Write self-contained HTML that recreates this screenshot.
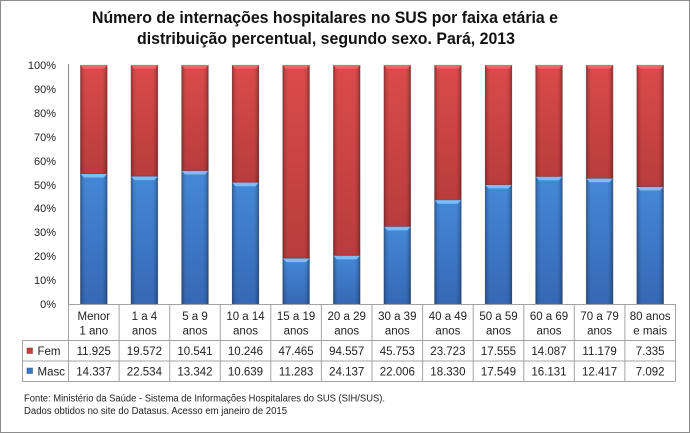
<!DOCTYPE html>
<html><head><meta charset="utf-8">
<style>
html,body{margin:0;padding:0;background:#fff;}
svg{display:block;}
text{font-family:"Liberation Sans",Arial,sans-serif;}
</style></head>
<body>
<svg width="690" height="433" viewBox="0 0 690 433" xmlns="http://www.w3.org/2000/svg">
<defs>
  <linearGradient id="rv" x1="0" y1="0" x2="0" y2="1">
    <stop offset="0" stop-color="#db4b4b"/>
    <stop offset="1" stop-color="#b93c3c"/>
  </linearGradient>
  <linearGradient id="bv" x1="0" y1="0" x2="0" y2="1">
    <stop offset="0" stop-color="#4588d8"/>
    <stop offset="1" stop-color="#3668b4"/>
  </linearGradient>
  <linearGradient id="sh" x1="0" y1="0" x2="1" y2="0">
    <stop offset="0" stop-color="#000" stop-opacity="0.35"/>
    <stop offset="0.1" stop-color="#000" stop-opacity="0.08"/>
    <stop offset="0.2" stop-color="#000" stop-opacity="0"/>
    <stop offset="0.8" stop-color="#000" stop-opacity="0"/>
    <stop offset="0.9" stop-color="#000" stop-opacity="0.1"/>
    <stop offset="1" stop-color="#000" stop-opacity="0.38"/>
  </linearGradient>
</defs>

<rect x="0.5" y="0.5" width="689" height="432" fill="#fff" stroke="#8c8c8c" stroke-width="1"/>

<!-- Title -->
<text x="325" y="23" font-size="16.5" font-weight="bold" fill="#111" text-anchor="middle" textLength="466" lengthAdjust="spacingAndGlyphs">Número de internações hospitalares no SUS por faixa etária e</text>
<text x="326" y="44" font-size="16.5" font-weight="bold" fill="#111" text-anchor="middle" textLength="378" lengthAdjust="spacingAndGlyphs">distribuição percentual, segundo sexo. Pará, 2013</text>

<!-- Y labels -->
<g font-size="11" fill="#222" text-anchor="end">
<text x="56" y="69">100%</text>
<text x="56" y="93">90%</text>
<text x="56" y="117">80%</text>
<text x="56" y="141">70%</text>
<text x="56" y="165">60%</text>
<text x="56" y="189">50%</text>
<text x="56" y="212">40%</text>
<text x="56" y="236">30%</text>
<text x="56" y="260">20%</text>
<text x="56" y="284">10%</text>
<text x="56" y="308">0%</text>
</g>

<!-- Y axis line -->
<line x1="68.5" y1="64" x2="68.5" y2="304" stroke="#8a8a8a" stroke-width="1"/>

<!-- Bars -->
<g>
<rect x="80.3" y="65" width="27" height="108.5" fill="url(#rv)"/><rect x="80.3" y="173.5" width="27" height="130.5" fill="url(#bv)"/>
<rect x="130.9" y="65" width="27" height="111.1" fill="url(#rv)"/><rect x="130.9" y="176.1" width="27" height="127.9" fill="url(#bv)"/>
<rect x="181.5" y="65" width="27" height="105.5" fill="url(#rv)"/><rect x="181.5" y="170.5" width="27" height="133.5" fill="url(#bv)"/>
<rect x="232.0" y="65" width="27" height="117.3" fill="url(#rv)"/><rect x="232.0" y="182.3" width="27" height="121.7" fill="url(#bv)"/>
<rect x="282.6" y="65" width="27" height="193.1" fill="url(#rv)"/><rect x="282.6" y="258.1" width="27" height="45.9" fill="url(#bv)"/>
<rect x="333.2" y="65" width="27" height="190.4" fill="url(#rv)"/><rect x="333.2" y="255.4" width="27" height="48.6" fill="url(#bv)"/>
<rect x="383.8" y="65" width="27" height="161.4" fill="url(#rv)"/><rect x="383.8" y="226.4" width="27" height="77.6" fill="url(#bv)"/>
<rect x="434.4" y="65" width="27" height="134.8" fill="url(#rv)"/><rect x="434.4" y="199.8" width="27" height="104.2" fill="url(#bv)"/>
<rect x="485.0" y="65" width="27" height="119.5" fill="url(#rv)"/><rect x="485.0" y="184.5" width="27" height="119.5" fill="url(#bv)"/>
<rect x="535.5" y="65" width="27" height="111.4" fill="url(#rv)"/><rect x="535.5" y="176.4" width="27" height="127.6" fill="url(#bv)"/>
<rect x="586.1" y="65" width="27" height="113.2" fill="url(#rv)"/><rect x="586.1" y="178.2" width="27" height="125.8" fill="url(#bv)"/>
<rect x="636.7" y="65" width="27" height="121.5" fill="url(#rv)"/><rect x="636.7" y="186.5" width="27" height="117.5" fill="url(#bv)"/>
</g>
<!-- side shading -->
<g fill="url(#sh)" stroke="#7a7a7a" stroke-opacity="0.35" stroke-width="0.6">
<rect x="80.3" y="65" width="27" height="239"/>
<rect x="130.9" y="65" width="27" height="239"/>
<rect x="181.5" y="65" width="27" height="239"/>
<rect x="232.0" y="65" width="27" height="239"/>
<rect x="282.6" y="65" width="27" height="239"/>
<rect x="333.2" y="65" width="27" height="239"/>
<rect x="383.8" y="65" width="27" height="239"/>
<rect x="434.4" y="65" width="27" height="239"/>
<rect x="485.0" y="65" width="27" height="239"/>
<rect x="535.5" y="65" width="27" height="239"/>
<rect x="586.1" y="65" width="27" height="239"/>
<rect x="636.7" y="65" width="27" height="239"/>
</g>
<!-- red top bevels -->
<g fill="#ec6c6c" opacity="0.9">
<polygon points="80.3,65 107.3,65 104.3,68.5 83.3,68.5"/>
<polygon points="130.9,65 157.9,65 154.9,68.5 133.9,68.5"/>
<polygon points="181.5,65 208.5,65 205.5,68.5 184.5,68.5"/>
<polygon points="232.0,65 259.0,65 256.0,68.5 235.0,68.5"/>
<polygon points="282.6,65 309.6,65 306.6,68.5 285.6,68.5"/>
<polygon points="333.2,65 360.2,65 357.2,68.5 336.2,68.5"/>
<polygon points="383.8,65 410.8,65 407.8,68.5 386.8,68.5"/>
<polygon points="434.4,65 461.4,65 458.4,68.5 437.4,68.5"/>
<polygon points="485.0,65 512.0,65 509.0,68.5 488.0,68.5"/>
<polygon points="535.5,65 562.5,65 559.5,68.5 538.5,68.5"/>
<polygon points="586.1,65 613.1,65 610.1,68.5 589.1,68.5"/>
<polygon points="636.7,65 663.7,65 660.7,68.5 639.7,68.5"/>
</g>
<!-- red/blue boundary line -->
<g stroke="#8a2f2f" stroke-width="1" opacity="0.6">
<line x1="80.3" y1="173.5" x2="107.3" y2="173.5"/>
<line x1="130.9" y1="176.1" x2="157.9" y2="176.1"/>
<line x1="181.5" y1="170.5" x2="208.5" y2="170.5"/>
<line x1="232.0" y1="182.3" x2="259.0" y2="182.3"/>
<line x1="282.6" y1="258.1" x2="309.6" y2="258.1"/>
<line x1="333.2" y1="255.4" x2="360.2" y2="255.4"/>
<line x1="383.8" y1="226.4" x2="410.8" y2="226.4"/>
<line x1="434.4" y1="199.8" x2="461.4" y2="199.8"/>
<line x1="485.0" y1="184.5" x2="512.0" y2="184.5"/>
<line x1="535.5" y1="176.4" x2="562.5" y2="176.4"/>
<line x1="586.1" y1="178.2" x2="613.1" y2="178.2"/>
<line x1="636.7" y1="186.5" x2="663.7" y2="186.5"/>
</g>
<!-- blue top bevels -->
<g fill="#7dbdf5">
<polygon points="80.8,174 106.8,174 103.8,177.5 83.8,177.5"/>
<polygon points="131.4,176.6 157.4,176.6 154.4,180.1 134.4,180.1"/>
<polygon points="182.0,171 208.0,171 205.0,174.5 185.0,174.5"/>
<polygon points="232.5,182.8 258.5,182.8 255.5,186.3 235.5,186.3"/>
<polygon points="283.1,258.6 309.1,258.6 306.1,262.1 286.1,262.1"/>
<polygon points="333.7,255.9 359.7,255.9 356.7,259.4 336.7,259.4"/>
<polygon points="384.3,226.9 410.3,226.9 407.3,230.4 387.3,230.4"/>
<polygon points="434.9,200.3 460.9,200.3 457.9,203.8 437.9,203.8"/>
<polygon points="485.5,185 511.5,185 508.5,188.5 488.5,188.5"/>
<polygon points="536.0,176.9 562.0,176.9 559.0,180.4 539.0,180.4"/>
<polygon points="586.6,178.7 612.6,178.7 609.6,182.2 589.6,182.2"/>
<polygon points="637.2,187 663.2,187 660.2,190.5 640.2,190.5"/>
</g>

<!-- Table lines -->
<g stroke="#a3a3a3" stroke-width="1" fill="none">
<line x1="68.5" y1="304.5" x2="675.5" y2="304.5"/>
<line x1="22.5" y1="340.5" x2="675.5" y2="340.5"/>
<line x1="22.5" y1="361" x2="675.5" y2="361"/>
<line x1="22.5" y1="381.5" x2="675.5" y2="381.5"/>
<line x1="22.5" y1="340.5" x2="22.5" y2="381.5"/>
<line x1="68.5" y1="304" x2="68.5" y2="381.5"/>
<line x1="119.1" y1="304" x2="119.1" y2="381.5"/>
<line x1="169.7" y1="304" x2="169.7" y2="381.5"/>
<line x1="220.3" y1="304" x2="220.3" y2="381.5"/>
<line x1="270.8" y1="304" x2="270.8" y2="381.5"/>
<line x1="321.4" y1="304" x2="321.4" y2="381.5"/>
<line x1="372.0" y1="304" x2="372.0" y2="381.5"/>
<line x1="422.6" y1="304" x2="422.6" y2="381.5"/>
<line x1="473.2" y1="304" x2="473.2" y2="381.5"/>
<line x1="523.8" y1="304" x2="523.8" y2="381.5"/>
<line x1="574.3" y1="304" x2="574.3" y2="381.5"/>
<line x1="624.9" y1="304" x2="624.9" y2="381.5"/>
<line x1="675.5" y1="304" x2="675.5" y2="381.5"/>
</g>

<!-- Category labels -->
<g font-size="11.5" fill="#222" text-anchor="middle">
<text x="93.8" y="320">Menor</text><text x="93.8" y="334.5">1 ano</text>
<text x="144.4" y="320">1 a 4</text><text x="144.4" y="334.5">anos</text>
<text x="195.0" y="320">5 a 9</text><text x="195.0" y="334.5">anos</text>
<text x="245.5" y="320">10 a 14</text><text x="245.5" y="334.5">anos</text>
<text x="296.1" y="320">15 a 19</text><text x="296.1" y="334.5">anos</text>
<text x="346.7" y="320">20 a 29</text><text x="346.7" y="334.5">anos</text>
<text x="397.3" y="320">30 a 39</text><text x="397.3" y="334.5">anos</text>
<text x="447.9" y="320">40 a 49</text><text x="447.9" y="334.5">anos</text>
<text x="498.5" y="320">50 a 59</text><text x="498.5" y="334.5">anos</text>
<text x="549.0" y="320">60 a 69</text><text x="549.0" y="334.5">anos</text>
<text x="599.6" y="320">70 a 79</text><text x="599.6" y="334.5">anos</text>
<text x="650.2" y="320">80 anos</text><text x="650.2" y="334.5">e mais</text>
</g>

<!-- Legend keys -->
<rect x="27" y="348" width="5.5" height="5.5" fill="#c63e3e" stroke="#8a2a2a" stroke-width="0.5"/>
<rect x="27" y="368" width="5.5" height="5.5" fill="#3a74c4" stroke="#24508a" stroke-width="0.5"/>
<g font-size="11.5" fill="#222">
<text x="37.5" y="355">Fem</text>
<text x="37.5" y="375.5">Masc</text>
</g>

<!-- Values -->
<g font-size="11.5" fill="#222" text-anchor="middle">
<text x="93.8" y="355">11.925</text>
<text x="144.4" y="355">19.572</text>
<text x="195.0" y="355">10.541</text>
<text x="245.5" y="355">10.246</text>
<text x="296.1" y="355">47.465</text>
<text x="346.7" y="355">94.557</text>
<text x="397.3" y="355">45.753</text>
<text x="447.9" y="355">23.723</text>
<text x="498.5" y="355">17.555</text>
<text x="549.0" y="355">14.087</text>
<text x="599.6" y="355">11.179</text>
<text x="650.2" y="355">7.335</text>

<text x="93.8" y="375.5">14.337</text>
<text x="144.4" y="375.5">22.534</text>
<text x="195.0" y="375.5">13.342</text>
<text x="245.5" y="375.5">10.639</text>
<text x="296.1" y="375.5">11.283</text>
<text x="346.7" y="375.5">24.137</text>
<text x="397.3" y="375.5">22.006</text>
<text x="447.9" y="375.5">18.330</text>
<text x="498.5" y="375.5">17.549</text>
<text x="549.0" y="375.5">16.131</text>
<text x="599.6" y="375.5">12.417</text>
<text x="650.2" y="375.5">7.092</text>
</g>

<!-- Footer -->
<g font-size="10" fill="#222">
<text x="24" y="401.5" textLength="361" lengthAdjust="spacingAndGlyphs">Fonte: Ministério da Saúde - Sistema de Informações Hospitalares do SUS (SIH/SUS).</text>
<text x="24" y="414" textLength="263" lengthAdjust="spacingAndGlyphs">Dados obtidos no site do Datasus. Acesso em janeiro de 2015</text>
</g>
</svg>
</body></html>
